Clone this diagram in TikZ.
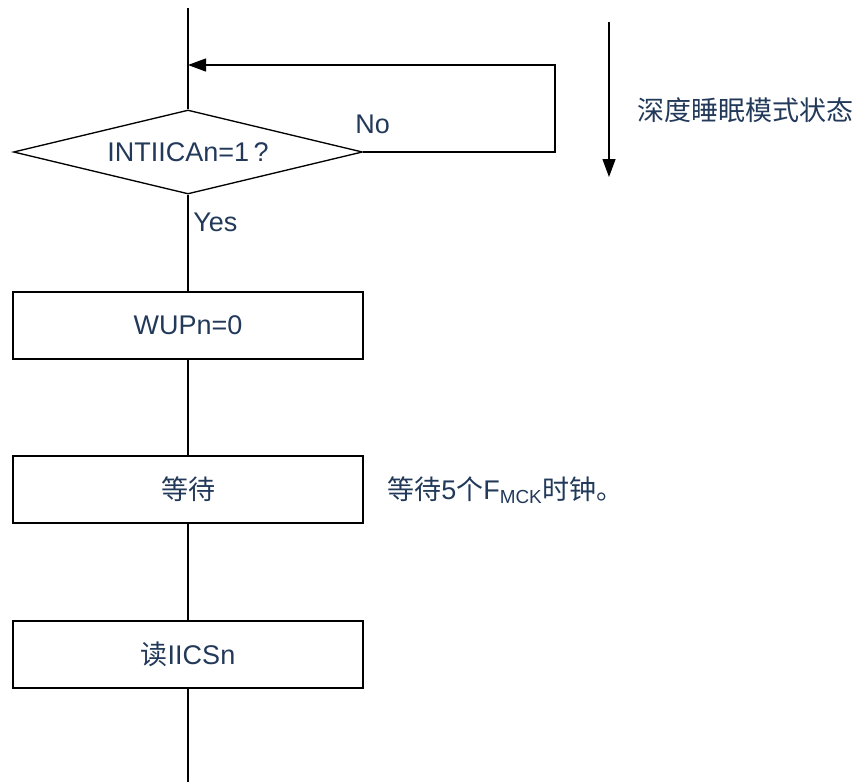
\documentclass[tikz,border=0pt]{standalone}
\usepackage{fontspec}
\setmainfont{Liberation Sans}
\newfontfamily\cjk{Noto Sans CJK SC}
\usetikzlibrary{shapes.geometric,arrows.meta}
\newlength\pxu
\setlength\pxu{0.75pt}
\definecolor{txt}{HTML}{22395A}
\tikzset{
  lbl/.style={font=\fontsize{20.25pt}{24pt}\selectfont, text=txt},
  boxnode/.style={lbl, draw, line width=1pt, minimum width=350\pxu, minimum height=67\pxu, inner sep=0pt},
  decision/.style={lbl, draw, diamond, line width=1pt, minimum width=349\pxu, minimum height=84\pxu, aspect=4.15, inner sep=0pt},
  conn/.style={line width=1pt},
  arr/.style={line width=1pt, -{Triangle[length=13.5pt,width=9.75pt]}},
  freetext/.style={lbl, inner sep=0pt, anchor=west}
}
\begin{document}
\begin{tikzpicture}[x=0.75pt,y=-0.75pt]
\useasboundingbox (0,0) rectangle (861,782);
\node[decision] (d) at (188,152) {INTIICAn=1\,?};
\node[boxnode] (b1) at (188,325.5) {WUPn=0};
\node[boxnode] (b2) at (188,489.5) {\cjk 等待};
\node[boxnode] (b3) at (188,654.5) {{\cjk 读}IICSn};
\coordinate (top) at (188,8);
\coordinate (bot) at (188,782);
\coordinate (ltop) at (555,65);
\coordinate (lin) at (188,65);
\coordinate (sa1) at (609,22);
\coordinate (sa2) at (609,177);
\draw[conn] (top) -- (d.north);
\draw[arr] (d.east) -| (ltop) -- (lin);
\draw[conn] (d.south) -- (b1.north);
\draw[conn] (b1.south) -- (b2.north);
\draw[conn] (b2.south) -- (b3.north);
\draw[conn] (b3.south) -- (bot);
\draw[arr] (sa1) -- (sa2);
\node[freetext] (no) at (355,124) {No};
\node[freetext] (yes) at (193,222) {Yes};
\node[freetext] (state) at (637,110) {\cjk 深度睡眠模式状态};
\node[freetext] (note) at (387,490) {{\cjk 等待}5{\cjk 个}F\textsubscript{MCK}{\cjk 时钟。}};
\end{tikzpicture}
\end{document}
